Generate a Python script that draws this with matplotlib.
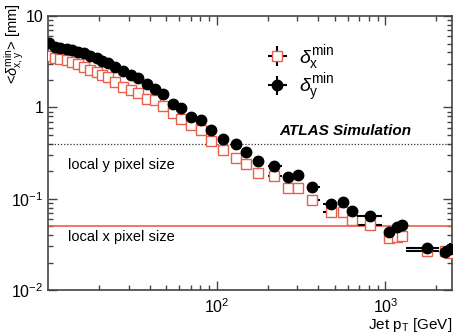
import numpy as np
import matplotlib.pyplot as plt

plt.rcParams['font.family'] = ['Liberation Sans', 'DejaVu Sans']
plt.rcParams['mathtext.fontset'] = 'custom'
plt.rcParams['mathtext.rm'] = 'Liberation Sans'
plt.rcParams['mathtext.it'] = 'Liberation Sans:italic'

# jet pT bin centres [GeV]
pt = [10.1, 11.0, 11.8, 12.9, 13.8, 15.1, 16.4, 17.7, 19.4, 21.0,
      22.7, 24.9, 27.9, 31.0, 34.2, 38.4, 43.0, 48.1, 55.1, 61.8,
      70.8, 81.2, 93.0, 109, 130, 150, 176, 218, 264, 303,
      368, 477, 564, 635, 812, 1046, 1178, 1252, 1761, 2265, 2424]
# x error (low / high) [GeV]
pt_lo = [0] * 27 + [17, 0, 0, 27, 50, 0, 0, 130, 0, 0, 0, 435, 0, 0]
pt_hi = [0] * 27 + [25, 0, 0, 39, 10, 0, 0, 148, 0, 0, 0, 326, 0, 0]

# <delta_y^min> [mm]
dy = [5.02, 4.61, 4.50, 4.35, 4.25, 4.07, 3.90, 3.65, 3.44, 3.22,
      3.03, 2.79, 2.50, 2.26, 2.11, 1.79, 1.57, 1.39, 1.09, 0.99,
      0.777, 0.726, 0.571, 0.453, 0.394, 0.327, 0.260, 0.229, 0.171, 0.184,
      0.135, 0.0883, 0.0924, 0.0737, 0.0648, 0.0428, 0.0494, 0.0520, 0.0286, 0.0262, 0.0281]
# <delta_x^min> [mm]
dx = [3.67, 3.44, 3.38, 3.30, 3.16, 2.98, 2.79, 2.56, 2.46, 2.26,
      2.16, 1.91, 1.68, 1.55, 1.42, 1.25, 1.19, 1.03, 0.859, 0.739,
      0.640, 0.564, 0.425, 0.337, 0.282, 0.239, 0.189, 0.177, 0.132, 0.130,
      0.0966, 0.0708, 0.0719, 0.0583, 0.0510, 0.0368, 0.0383, 0.0393, 0.0269, 0.0267, 0.0255]
# relative stat. uncertainty
rel_err = [0.01] * 30 + [0.03, 0.05, 0.05, 0.06, 0.06, 0.1, 0.1, 0.1, 0.12, 0.15, 0.15]

pix_y = 0.4   # mm
pix_x = 0.05  # mm

red = '#e8604c'

fig = plt.figure(figsize=(4.58, 3.34), dpi=100)
ax = fig.add_axes([0.1048, 0.1317, 0.8821, 0.8203])

ax.axhline(pix_y, color='#333333', lw=0.9, ls=(0, (1, 1.5)))
ax.axhline(pix_x, color=red, lw=1.2)

pt = np.array(pt)
xerr = [pt_lo, pt_hi]
dx = np.array(dx)
dy = np.array(dy)
rel_err = np.array(rel_err)

ax.errorbar(pt, dx, xerr=xerr, yerr=dx * rel_err, fmt='s', ms=7, mfc='white',
            mec=red, mew=1.0, ecolor='black', elinewidth=1.5, capsize=0,
            label=r'$\delta_{\rm x}^{\rm min}$', zorder=3)
ax.errorbar(pt, dy, xerr=xerr, yerr=dy * rel_err, fmt='o', ms=7.5, color='black',
            ecolor='black', elinewidth=1.5, capsize=0,
            label=r'$\delta_{\rm y}^{\rm min}$', zorder=4)

ax.set_xscale('log')
ax.set_yscale('log')
ax.set_xlim(10, 2480)
ax.set_ylim(0.01, 10)

ax.tick_params(which='both', direction='in', top=True, right=True, labelsize=11.5,
               width=1, color='#444444')
ax.tick_params(which='major', length=6.5)
ax.tick_params(which='minor', length=3.5)
ax.tick_params(axis='x', which='major', pad=5)
ax.set_yticks([0.01, 0.1, 1, 10])
ax.set_yticklabels([r'10$^{-2}$', r'10$^{-1}$', '1', '10'])
ax.set_xticks([100, 1000])
ax.set_xticklabels([r'10$^{2}$', r'10$^{3}$'])
for s in ax.spines.values():
    s.set_linewidth(1.2)
    s.set_color('#444444')

ax.set_xlabel(r'Jet p$_{\rm T}$ [GeV]', fontsize=11, ha='right', va='center')
ax.xaxis.set_label_coords(1.0, -0.126)
ax.set_ylabel(r'<$\delta^{\rm min}_{\rm x,y}$> [mm]', fontsize=10.5, ha='right', va='center')
ax.yaxis.set_label_coords(-0.085, 1.045)

ax.text(0.05, 0.455, 'local y pixel size', transform=ax.transAxes, fontsize=10.5, va='center')
ax.text(0.05, 0.195, 'local x pixel size', transform=ax.transAxes, fontsize=10.5, va='center')
ax.text(0.9, 0.58, 'ATLAS Simulation', transform=ax.transAxes, fontsize=11,
        fontweight='bold', fontstyle='italic', ha='right', va='center')

ax.legend(loc='upper left', bbox_to_anchor=(0.51, 0.93), frameon=False, fontsize=14,
          handlelength=1.6, labelspacing=0.0, borderaxespad=0, handletextpad=0.3)

fig.savefig('out.png', dpi=100)
